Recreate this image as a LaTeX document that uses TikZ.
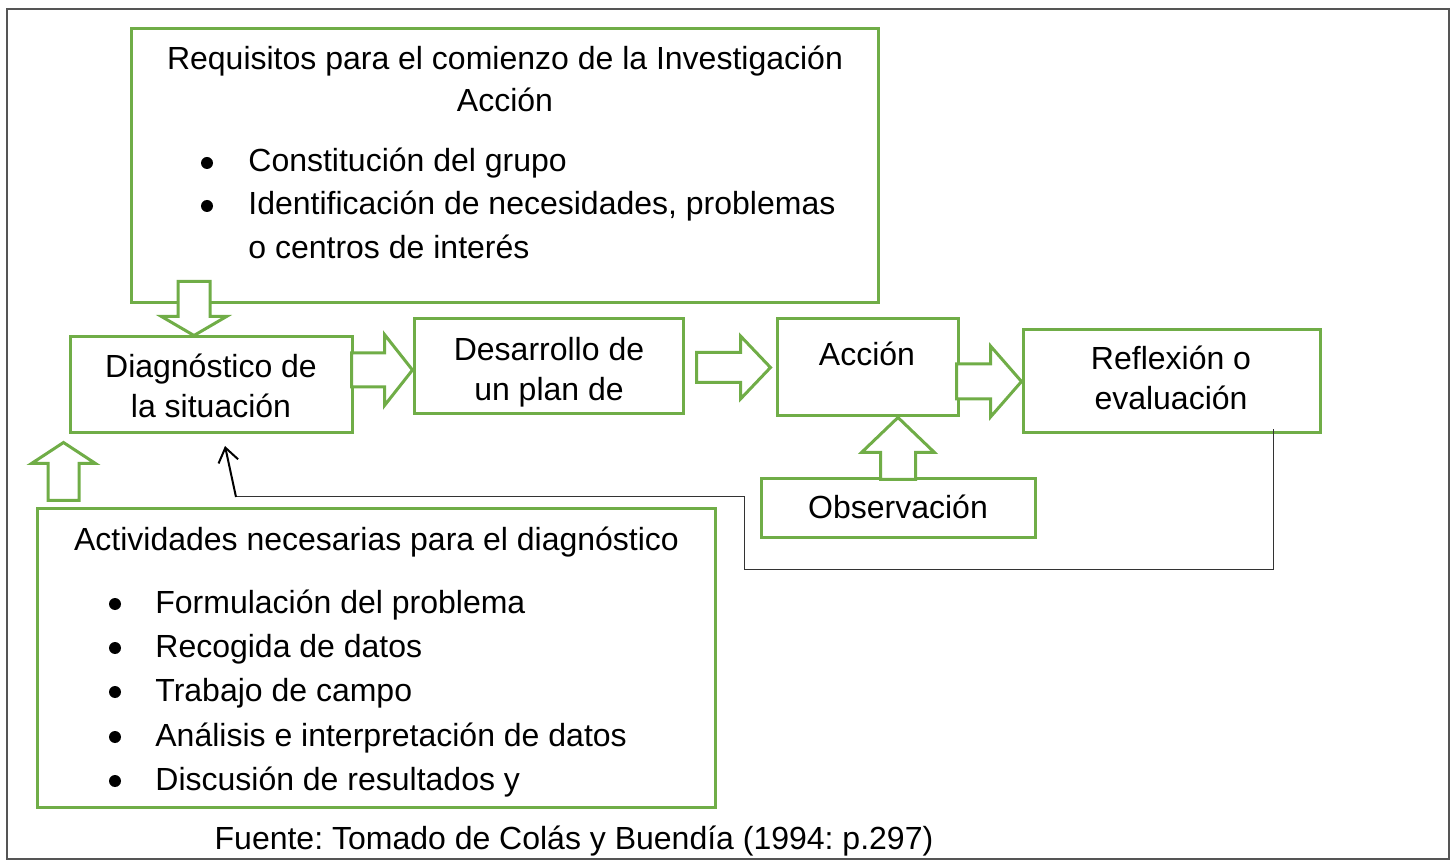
\documentclass[tikz,border=0pt]{standalone}
\usepackage{fontspec}
\setmainfont{Liberation Sans}
\frenchspacing
\usetikzlibrary{arrows.meta,calc}
\definecolor{boxgreen}{HTML}{70AD47}
\definecolor{framegray}{HTML}{555555}
% tip, angle, length, head length, shaft half width, head half width
\newcommand{\fatarrow}[6]{%
  \begin{scope}[shift={(#1)},rotate=#2]
    \draw[fat] (-#3,-#5)--(-#4,-#5)--(-#4,-#6)--(0,0)--(-#4,#6)--(-#4,#5)--(-#3,#5)--cycle;
  \end{scope}}
\begin{document}
\begin{tikzpicture}[x=0.5pt,y=-0.5pt,line join=miter]
	\tikzset{box/.style={draw=boxgreen,line width=1.5pt,fill=white,inner sep=0pt},
		fat/.style={draw=boxgreen,line width=1.5pt,fill=white},
		txt/.style={anchor=base,inner sep=0pt,font=\fontsize{16}{20}\selectfont},
		fb/.style={line width=0.5pt,draw=black!80}}
	\useasboundingbox (0,0) rectangle (1453,861);
	\draw[framegray,line width=1pt] (7,9) rectangle (1449,859);
	% cajas
	\node[box,minimum width=373.5pt,minimum height=137pt] (req) at (504.5,166) {};
	\node[box,minimum width=141pt,minimum height=48pt] (diag) at (211,385) {};
	\node[box,minimum width=134.5pt,minimum height=47.5pt] (plan) at (548.5,366.5) {};
	\node[box,minimum width=90.5pt,minimum height=48.5pt] (accion) at (867.5,367.5) {};
	\node[box,minimum width=148.5pt,minimum height=51.5pt] (reflex) at (1171.5,381.5) {};
	\node[box,minimum width=137pt,minimum height=29.5pt] (obs) at (898,508.5) {};
	\node[box,minimum width=339pt,minimum height=149pt] (activ) at (376,658) {};
	% textos
	\node[txt] (reqA) at (505,70) {Requisitos para el comienzo de la Investigación};
	\node[txt] (reqB) at (505,112) {Acción};
	\foreach \yb/\t/\b [count=\i] in {172/Constitución del grupo/1,215/{Identificación de necesidades, problemas}/1,259/o centros de interés/0}{
		\node[txt,anchor=base west] (reqI\i) at (248,\yb) {\t};
		\ifnum\b=1 \fill (207,\yb-9) circle (3pt); \fi
	}
	\node[txt] (diagA) at (211,378) {Diagnóstico de};
	\node[txt] (diagB) at (211,418) {la situación};
	\node[txt] (planA) at (549,361) {Desarrollo de};
	\node[txt] (planB) at (549,401) {un plan de};
	\node[txt] (accionA) at (867,366) {Acción};
	\node[txt] (reflexA) at (1171,370) {Reflexión o};
	\node[txt] (reflexB) at (1171,410) {evaluación};
	\node[txt] (obsA) at (898,518) {Observación};
	\node[txt] (activA) at (376.5,551) {Actividades necesarias para el diagnóstico};
	\foreach \yb/\t [count=\i] in {613/Formulación del problema,657/Recogida de datos,701/Trabajo de campo,746/Análisis e interpretación de datos,790/Discusión de resultados y}{
		\node[txt,anchor=base west] (activI\i) at (155,\yb) {\t};
		\fill (115,\yb-9) circle (3pt);
	}
	\node[txt] (fuente) at (574,849) {Fuente: Tomado de Colás y Buendía (1994: p.297)};
	% flechas gruesas
	\fatarrow{194,0 |- diag.north}{-90}{54}{19}{16}{32.5}
	\fatarrow{plan.west |- 0,370}{0}{61}{28}{17}{35.5}
	\fatarrow{$(accion.west)+(-5,0)$}{0}{74}{30}{15}{31.5}
	\fatarrow{reflex.west}{0}{65}{31}{17.5}{35.5}
	\fatarrow{obs.north |- accion.south}{90}{62}{35}{17.5}{36.5}
	\fatarrow{$(diag.south west)+(-5,8)$}{90}{58}{21}{15.5}{32}
	% retorno
	\coordinate (fbtop) at ($(reflex.south)+(101.5,-5)$);
	\coordinate (fbturn) at (236,497);
	\coordinate (fbtip) at (225,446);
	\draw[fb] (fbtop) |- (744,569) |- (fbturn);
	\draw[line width=1pt,-{Straight Barb[length=7pt,width=10pt]}] (fbturn) -- (fbtip);
\end{tikzpicture}
\end{document}
